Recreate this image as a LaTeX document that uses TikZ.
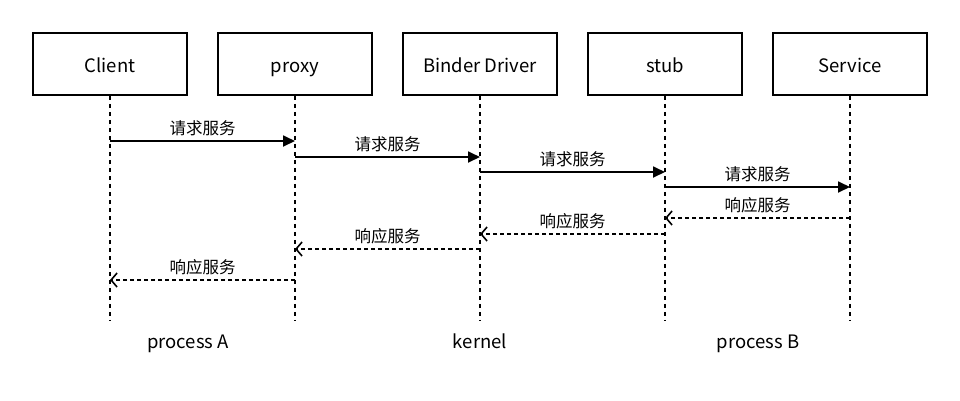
\documentclass[tikz,border=0pt]{standalone}
\usepackage{fontspec}
\setmainfont{Noto Sans CJK SC}
\usetikzlibrary{arrows.meta}
\begin{document}
\begin{tikzpicture}[x=1pt,y=-1pt,
  font=\fontsize{18.5}{22}\selectfont,
  actor/.style={draw,line width=1.8pt,minimum width=154pt,minimum height=62pt,inner sep=0pt,text height=17pt,text depth=0pt},
  lifeline/.style={line width=1.8pt,dash pattern=on 4pt off 4pt},
  req/.style={line width=1.8pt,-{Triangle[length=12pt,width=11pt]}},
  resp/.style={line width=1.8pt,dash pattern=on 4pt off 3pt,-{Straight Barb[length=6pt,width=14pt,line width=1.6pt]}},
  lbl/.style={midway,above,inner sep=0pt,yshift=4pt,font=\fontsize{16.5}{19}\selectfont},
  groupcap/.style={text height=13pt,text depth=4pt}]
\useasboundingbox (0,0) rectangle (960,400);
\node[actor] (c) at (110,64) {Client};
\node[actor] (p) at (295,64) {proxy};
\node[actor] (b) at (480,64) {Binder Driver};
\node[actor] (s) at (665,64) {stub};
\node[actor] (v) at (850,64) {Service};
\foreach \n/\x in {c/110,p/295,b/480,s/665,v/850}{
  \coordinate (\n e) at (\x,321);
  \draw[lifeline] (\n.south) -- (\n e);
}
% requests
\draw[req] (c.south |- 0,141) -- (p.south |- 0,141) node[lbl] {请求服务};
\draw[req] (p.south |- 0,157) -- (b.south |- 0,157) node[lbl] {请求服务};
\draw[req] (b.south |- 0,172) -- (s.south |- 0,172) node[lbl] {请求服务};
\draw[req] (s.south |- 0,187) -- (v.south |- 0,187) node[lbl] {请求服务};
% responses
\draw[resp] (v.south |- 0,218) -- (s.south |- 0,218) node[lbl] {响应服务};
\draw[resp] (s.south |- 0,234) -- (b.south |- 0,234) node[lbl] {响应服务};
\draw[resp] (b.south |- 0,249) -- (p.south |- 0,249) node[lbl] {响应服务};
\draw[resp] (p.south |- 0,280) -- (c.south |- 0,280) node[lbl] {响应服务};
\node[groupcap] (pa) at (188,344) {process A};
\node[groupcap] (k) at (480,344) {kernel};
\node[groupcap] (pb) at (758,344) {process B};
\end{tikzpicture}
\end{document}
